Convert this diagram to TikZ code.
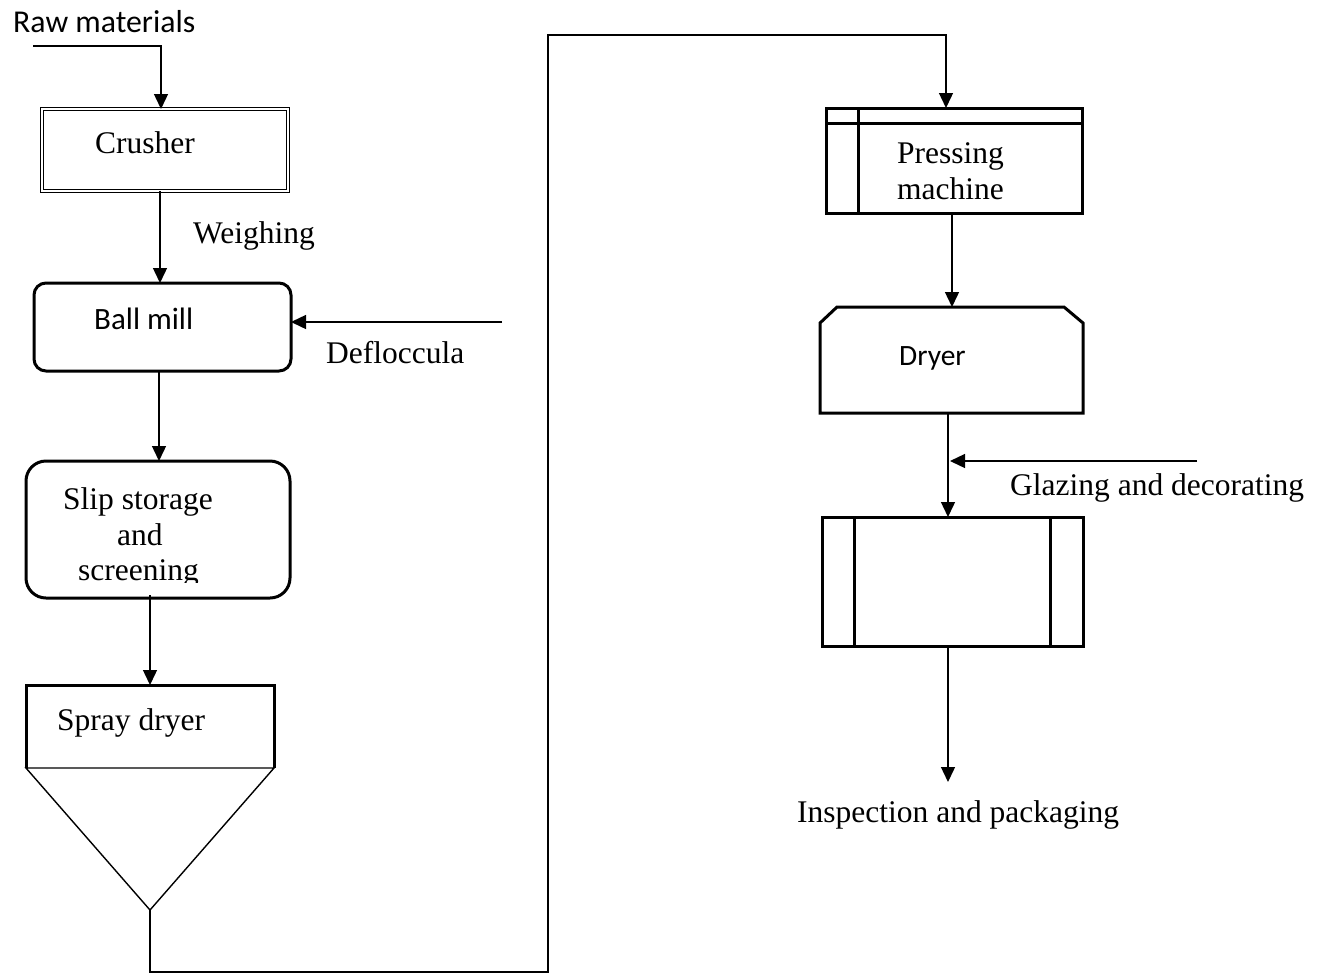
\documentclass[tikz,border=0pt]{standalone}
\usepackage{fontspec}
\setmainfont{Liberation Serif}
\newfontfamily\calibri{Carlito}
\usetikzlibrary{arrows.meta,calc}

\tikzset{
  conn/.style={line width=1.4pt},
  arr/.style={conn, -{Triangle[length=15pt,width=14pt]}},
  heavy/.style={line width=3pt, line join=round},
  slot/.style={inner sep=0pt, outer sep=0pt, anchor=north west},
  serif/.style={inner sep=0pt, anchor=base west, font=\fontsize{31.5}{36}\selectfont},
  sans/.style={inner sep=0pt, anchor=base west, font=\calibri\fontsize{#1}{34}\selectfont},
  sans/.default=29.5,
}

\begin{document}
\begin{tikzpicture}[x=1pt,y=-1pt]
\useasboundingbox (0,0) rectangle (1325,975);

% ---------- left column ----------
\node[sans=31.8] (rawlbl) at (13,32) {Raw materials};
\coordinate (rawin) at (33,46);

\node[slot, draw, double, line width=0.9pt, double distance=2pt,
      minimum width=246pt, minimum height=82pt] (crusher) at (42,109) {};
\node[serif] (crusherlbl) at (95,153) {Crusher};

\node[serif] (weighlbl) at (193,243) {Weighing};

\node[slot, draw, heavy, rounded corners=12pt,
      minimum width=257pt, minimum height=88pt] (ball) at (34,283) {};
\node[sans=31] (balllbl) at (94,329) {Ball mill};

\coordinate (deflin) at (502,322);
\node[serif] (defllbl) at (326,363) {Defloccula};

\node[slot, draw, heavy, rounded corners=20pt,
      minimum width=264pt, minimum height=137pt] (slip) at (26,461) {};
\node[serif] (slip1) at (63,509) {Slip storage};
\node[serif] (slip2) at (117,545) {and};
\begin{scope}
  \clip (0,440) rectangle (400,582);
  \node[serif] (slip3) at (78,580) {screening};
\end{scope}

% spray dryer: box with a hopper underneath
\node[slot, minimum width=248pt, minimum height=83pt] (spray) at (26,685) {};
\draw[heavy, line join=miter] (spray.south west) -- (spray.north west)
      -- (spray.north east) -- (spray.south east);
\coordinate (apex) at (150,910);
\draw[conn, line join=miter] (spray.south west) -- (spray.south east) -- (apex) -- cycle;
\node[serif] (spraylbl) at (57,730) {Spray dryer};

% ---------- right column ----------
\node[slot, draw, heavy, line join=miter,
      minimum width=256pt, minimum height=105pt] (press) at (826,108) {};
\draw[heavy] ([yshift=-15pt]press.north west) -- ([yshift=-15pt]press.north east);
\draw[heavy] ([xshift=32pt]press.north west) -- ([xshift=32pt]press.south west);
\node[serif] (press1) at (897,163) {Pressing};
\node[serif] (press2) at (897,199) {machine};

\node[slot, minimum width=263pt, minimum height=106pt] (dryer) at (820,307) {};
\draw[heavy, line join=miter] (dryer.south west) -- ([yshift=-16pt]dryer.north west)
      -- ([xshift=17pt]dryer.north west) -- ([xshift=-19pt]dryer.north east)
      -- ([yshift=-16pt]dryer.north east) -- (dryer.south east) -- cycle;
\node[sans] (dryerlbl) at (899,365) {Dryer};

\coordinate (glzin) at (1197,461);
\coordinate (glztip) at (950,461);
\node[serif] (glzlbl) at (1010,495) {Glazing and decorating};

\node[slot, draw, heavy, line join=miter,
      minimum width=261pt, minimum height=129pt] (kiln) at (822,517) {};
\draw[heavy] ([xshift=32pt]kiln.north west) -- ([xshift=32pt]kiln.south west);
\draw[heavy] ([xshift=-33pt]kiln.north east) -- ([xshift=-33pt]kiln.south east);

\coordinate (insptip) at (948,782);
\node[serif] (insplbl) at (797,822) {Inspection and packaging};

% ---------- connectors ----------
\draw[arr] (rawin) -| ([xshift=-4pt]crusher.north);
\draw[arr] ([xshift=-5pt]crusher.south) -- ([xshift=-2.5pt]ball.north);
\draw[arr] (deflin) -- (deflin -| ball.east);
\draw[arr] ([xshift=-3.5pt]ball.south) -- ([xshift=1pt]slip.north);
\draw[arr] ([xshift=-8pt,yshift=3pt]slip.south) -- (spray.north);
\coordinate (low) at (548,972);
\coordinate (high) at (548,35);
\draw[arr] (apex) |- (low) -- (high) -| ([xshift=-8pt]press.north);
\draw[arr] ([xshift=-2pt]press.south) -- ([xshift=0.5pt]dryer.north);
\draw[arr] ([xshift=-3.5pt]dryer.south) -- ([xshift=-4.5pt]kiln.north);
\draw[arr] (glzin) -- (glztip);
\draw[arr] ([xshift=-4.5pt]kiln.south) -- (insptip);
\end{tikzpicture}
\end{document}
